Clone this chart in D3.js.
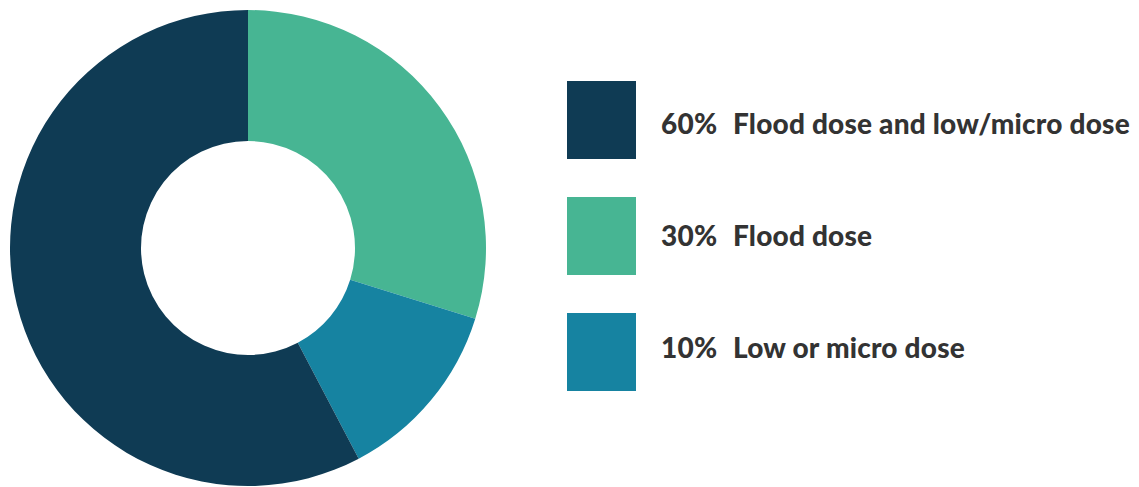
<!DOCTYPE html>
<html>
<head>
<meta charset="utf-8">
<script src="https://cdn.jsdelivr.net/npm/d3@7/dist/d3.min.js"></script>
<style>
  html, body { margin: 0; padding: 0; background: #fff; }
  svg { display: block; }
  text { font-family: Lato, "Open Sans", sans-serif; font-weight: 900; fill: #333333; }
</style>
</head>
<body>
<svg id="chart" width="1139" height="487"></svg>
<script>
// Slices in drawing order (clockwise from 12 o'clock)
const categories = ["Flood dose", "Low or micro dose", "Flood dose and low/micro dose"];
const shares = [29.8, 12.5, 57.7];           // arc sizes as drawn
const percentLabels = ["30%", "10%", "60%"];
const colors = ["#47b593", "#1683a1", "#0f3b54"];
// Legend order (top to bottom), indices into the arrays above
const legendOrder = [2, 0, 1];

const svg = d3.select("#chart");
const cx = 248, cy = 248, outerR = 238, innerR = 107;

const pie = d3.pie().sort(null).value(d => d)(shares);
const arc = d3.arc().innerRadius(innerR).outerRadius(outerR);

svg.append("g").attr("transform", `translate(${cx},${cy})`)
  .selectAll("path").data(pie).join("path")
  .attr("d", arc)
  .attr("fill", (d, i) => colors[i]);

const rectY = d3.scalePoint().domain(legendOrder).range([81, 313]);
const textY = d3.scalePoint().domain(legendOrder).range([134, 358]);
const lg = svg.append("g");
lg.selectAll("rect").data(legendOrder).join("rect")
  .attr("x", 567).attr("y", d => rectY(d))
  .attr("width", 69).attr("height", 78).attr("fill", d => colors[d]);
lg.selectAll("text.pct").data(legendOrder).join("text").attr("class", "pct")
  .attr("x", 661).attr("y", d => textY(d)).attr("font-size", 28)
  .attr("letter-spacing", 0.2).text(d => percentLabels[d]);
lg.selectAll("text.cat").data(legendOrder).join("text").attr("class", "cat")
  .attr("x", 733).attr("y", d => textY(d)).attr("font-size", 28)
  .attr("letter-spacing", 0.2).text(d => categories[d]);
</script>
</body>
</html>
